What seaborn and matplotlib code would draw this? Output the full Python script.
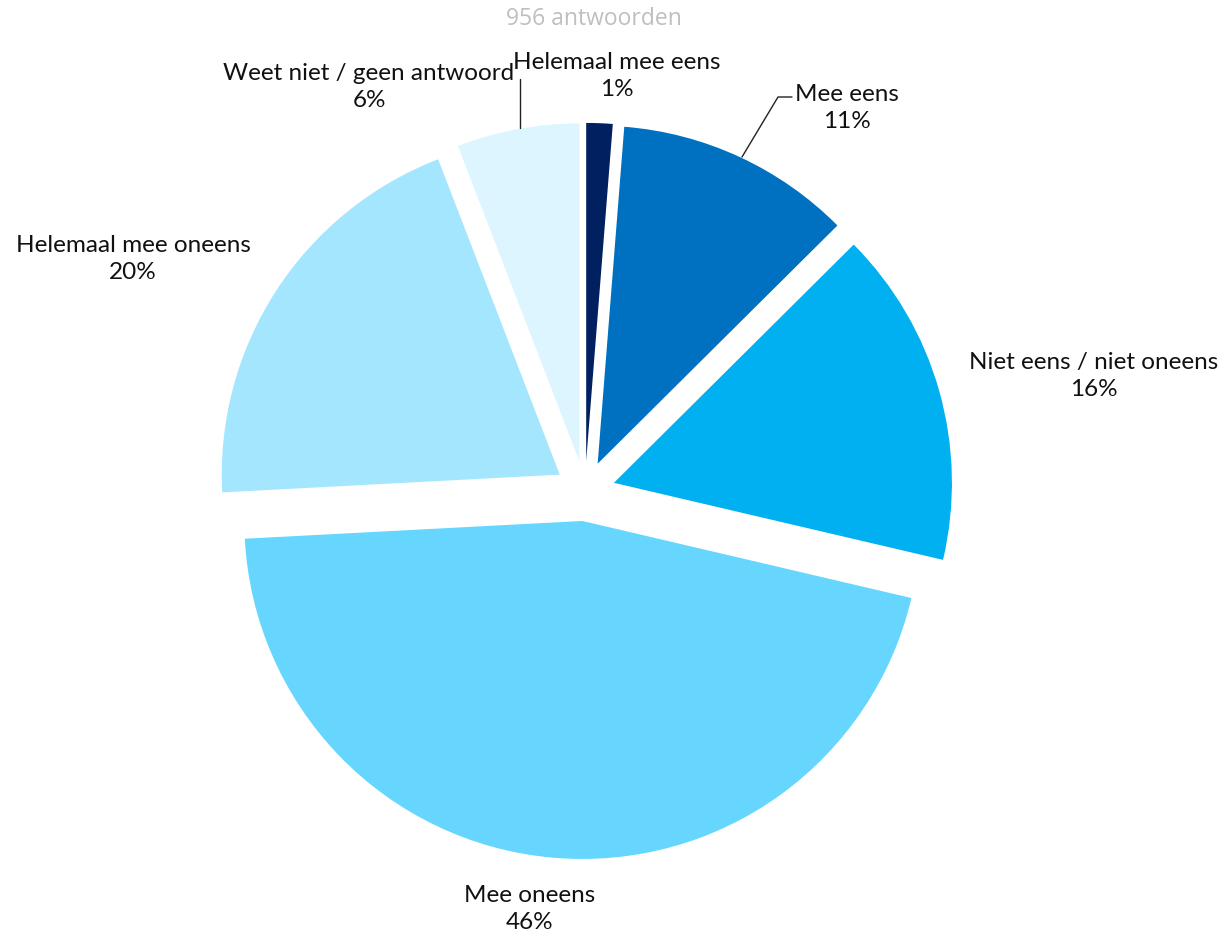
import matplotlib
matplotlib.use("Agg")
import matplotlib.pyplot as plt
import seaborn as sns

# answers out of 956, clockwise from 12 o'clock
categories = ["Helemaal mee eens", "Mee eens", "Niet eens / niet oneens",
              "Mee oneens", "Helemaal mee oneens", "Weet niet / geen antwoord"]
counts = [12, 108, 154, 435, 191, 56]
pct_labels = ["1%", "11%", "16%", "46%", "20%", "6%"]
title = "956 antwoorden"

colors = ["#002060", "#0070C0", "#00B0F0", "#66D6FE", "#A3E6FD", "#DDF5FE"]

sns.set_theme(style="white")
plt.rcParams['font.family'] = ['Lato', 'DejaVu Sans']

W, H = 1227, 938
fig = plt.figure(figsize=(W / 100, H / 100), dpi=100)
ax = fig.add_axes([0, 0, 1, 1])

# pie centre and radius in pixels
cx, cy, r = 585, 491, 338
ax.pie(counts, colors=colors, startangle=90, counterclock=False,
       explode=[0.089] * len(counts), radius=1,
       wedgeprops=dict(linewidth=0))
ax.set_xlim(-cx / r, (W - cx) / r)
ax.set_ylim(-(H - cy) / r, cy / r)
ax.set_aspect("equal")
ax.axis("off")


def fpos(x, y):
    return x / W, 1 - y / H


# label centres (pixels)
label_pos = [(617, 76), (847, 108), (1094, 376), (530, 909), (133, 259), (369, 87)]
for name, p, (x, y) in zip(categories, pct_labels, label_pos):
    fig.text(*fpos(x, y), f"{name}\n{p}", ha="center", va="center",
             fontsize=17.5, color="#111111", linespacing=1.35)

fig.text(*fpos(594, 19), title, ha="center", va="center",
         fontsize=16.5, color="#BFBFBF", family=["Open Sans", "DejaVu Sans"])

# leader lines
leaders = [[(742, 157), (778, 97), (792, 97)], [(520, 128), (520, 79)]]
for pts in leaders:
    xs = [fpos(*p)[0] for p in pts]
    ys = [fpos(*p)[1] for p in pts]
    fig.add_artist(plt.Line2D(xs, ys, transform=fig.transFigure,
                              color="#222222", linewidth=1))

fig.savefig("out.png", dpi=100)
